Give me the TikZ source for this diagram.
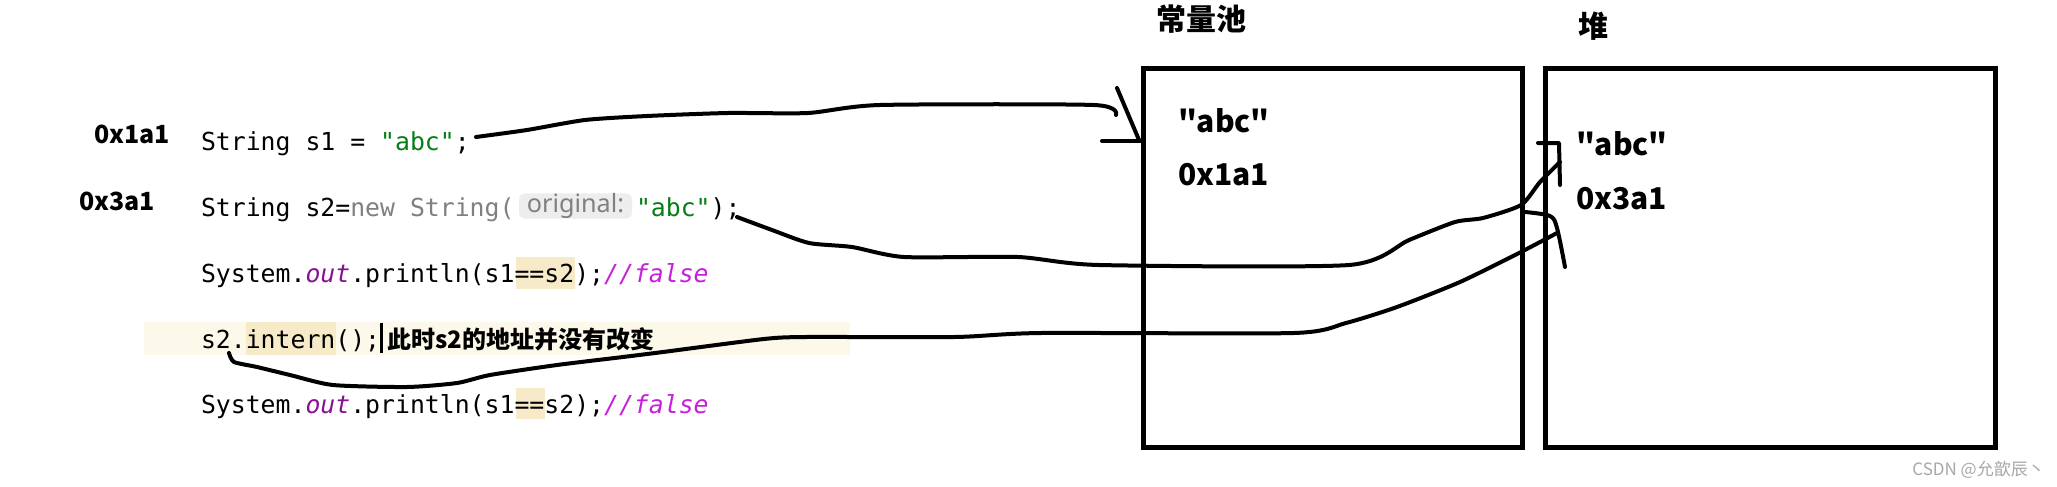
\documentclass[tikz,border=0pt]{standalone}
\usepackage{fontspec}
\newfontfamily\codefont{DejaVu Sans Mono}
\newfontfamily\cjkfont{Noto Sans CJK SC}
\newfontfamily\hintfont{Noto Sans}
\definecolor{strgreen}{HTML}{067D17}
\definecolor{kwgrey}{HTML}{808080}
\definecolor{purp}{HTML}{871094}
\definecolor{cmt}{HTML}{C71FDB}
\definecolor{band}{HTML}{FCF9EA}
\definecolor{hl}{HTML}{F6EAC8}
\definecolor{hintbg}{HTML}{EDEDED}
\definecolor{wm}{HTML}{A8A8A8}
\tikzset{
  codetxt/.style={anchor=base west, inner sep=0pt, outer sep=0pt, font=\codefont\fontsize{12.4pt}{14pt}\selectfont},
  lab/.style={anchor=base west, inner sep=0pt, outer sep=0pt, font=\cjkfont\bfseries\fontsize{12.5pt}{14pt}\selectfont},
  boxlab/.style={anchor=base west, inner sep=0pt, outer sep=0pt, font=\cjkfont\bfseries\fontsize{15pt}{17pt}\selectfont},
  membox/.style={draw=black, line width=2.5pt, inner sep=0pt, fill=none},
  pen/.style={draw=black, line width=2pt, line cap=round, line join=round},
  hintbox/.style={fill=hintbg, rounded corners=3pt, inner sep=0pt, text=kwgrey, font=\hintfont\fontsize{12.6pt}{14pt}\selectfont},
}
\begin{document}
\begin{tikzpicture}[x=0.5pt,y=-0.5pt]
\fill[white] (0,0) rectangle (2057,487);
\useasboundingbox (0,0) rectangle (2057,487);
% line highlight band and usage highlights
\fill[band] (144,322) rectangle (850,355);
\fill[hl] (516,257) rectangle (575,289);
\fill[hl] (246,322) rectangle (336,355);
\fill[hl] (516,388) rectangle (545,419);
% code lines
\node[codetxt] (l1) at (201,150) {String s1 = {\color{strgreen}"abc"};};
\node[codetxt] (l2a) at (201,216) {String s2={\color{kwgrey}new String(}};
\node[hintbox, minimum width=56.5pt, minimum height=12pt] (hint) at (575.5,206) {original:};
\node[codetxt] (l2b) at (636,216) {{\color{strgreen}"abc"});};
\node[codetxt] (l3) at (201,282) {System.{\color{purp}\itshape out}.println(s1==s2);{\color{cmt}\itshape //false}};
\node[codetxt] (l4) at (201,348) {s2.intern();};
\fill[black] (380,323) rectangle (383,353);
\node[anchor=base west, inner sep=0pt, font=\cjkfont\bfseries\fontsize{12pt}{14pt}\selectfont] (note) at (387,348) {此时s2的地址并没有改变};
\node[codetxt] (l5) at (201,413) {System.{\color{purp}\itshape out}.println(s1==s2);{\color{cmt}\itshape //false}};
% address labels
\node[lab] (a1) at (94,143) {0x1a1};
\node[lab] (a3) at (79,210) {0x3a1};
% memory boxes
\node[membox, minimum width=189.5pt, minimum height=189.5pt] (pool) at (1332.5,257.5) {};
\node[membox, minimum width=225pt, minimum height=189.5pt] (heap) at (1770,257.5) {};
\node[boxlab] (tpool) at (1156,31) {常量池};
\node[boxlab] (theap) at (1578,38) {堆};
\node[boxlab] (pabc) at (1178,132) {"abc"};
\node[boxlab] (paddr) at (1178,185) {0x1a1};
\node[boxlab] (habc) at (1576,155) {"abc"};
\node[boxlab] (haddr) at (1576,209) {0x3a1};
% hand drawn connectors
\coordinate (c1s) at (476,137);
\coordinate (c1e) at (1116,115);
\draw[pen] plot[smooth, tension=0.4] coordinates {(c1s) (527,130) (585,120) (647,116) (728,113) (808,113) (880,105) (1094,105) (c1e)};
\coordinate (h1a) at (1117,88);
\coordinate (h1t) at (1139,140);
\coordinate (h1b) at (1102,141);
\draw[pen] (h1a) -- (h1t);
\draw[pen] (h1b) -- (1142,141);
\coordinate (c2s) at (737,217);
\coordinate (c2e) at (1560,162);
\draw[pen] plot[smooth, tension=0.4] coordinates {(c2s) (772,230) (809,243) (852,247) (904,257) (1018,257) (1099,265) (1349,265) (1409,240) (1455,222) (1483,218) (1521,205) (1540,182) (c2e)};
\coordinate (h2a) at (1538,143);
\coordinate (h2b) at (1560,185);
\draw[pen] (h2a) -- (1559,143) -- (h2b);
\coordinate (c3s) at (229,353);
\coordinate (c3e) at (1557,233);
\draw[pen] plot[smooth, tension=0.4] coordinates {(c3s) (234,362) (257,367) (290,375) (333,385) (407,387) (457,383) (490,375) (557,365) (623,357) (663,352) (764,339) (806,337) (955,337) (1041,333) (1294,333) (1346,323) (1397,307) (1460,282) (1519,253) (c3e)};
\coordinate (h3a) at (1525,212);
\coordinate (h3b) at (1565,267);
\draw[pen] plot[smooth, tension=0.5] coordinates {(h3a) (1550,216) (1557,228) (h3b)};
% watermark
\node[anchor=base west, inner sep=0pt, text=wm, font=\cjkfont\fontsize{8.5pt}{10pt}\selectfont] (wmk) at (1912,475) {CSDN @允歆辰丶};
\end{tikzpicture}
\end{document}
